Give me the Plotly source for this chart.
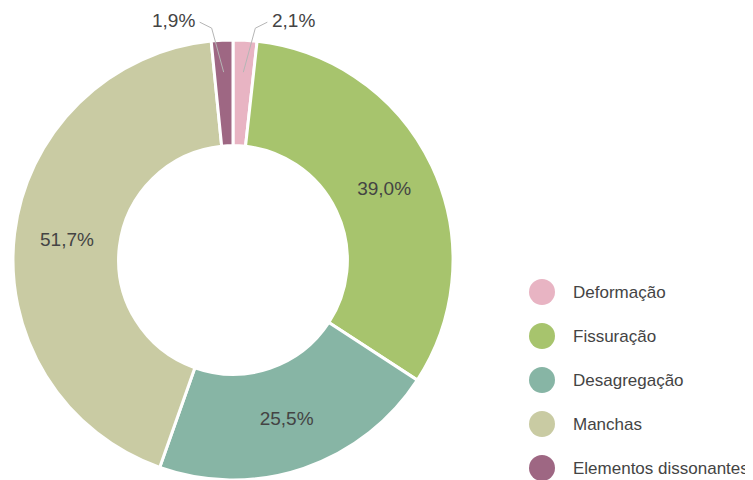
import math
import plotly.graph_objects as go

categories = ["Deformação", "Fissuração", "Desagregação", "Manchas", "Elementos dissonantes"]
values = [2.1, 39.0, 25.5, 51.7, 1.9]
colors = ["#E8B4C3", "#A7C46D", "#87B5A5", "#C9CBA3", "#9E6783"]
outside = [True, False, False, False, True]

W, H = 753, 480
OFF = 8  # page offset of the plot div
FONT = "Arial, Liberation Sans, sans-serif"
TXT = "#444444"

def px(x):
    return (x - OFF) / W

def py(y):
    return 1 - (y - OFF) / H

# pie geometry (screen pixels)
CX, CY, R = 233, 260, 220

fig = go.Figure()
fig.add_trace(go.Pie(
    labels=categories,
    values=values,
    sort=False,
    direction="clockwise",
    rotation=0,
    hole=0.52,
    marker=dict(colors=colors, line=dict(color="white", width=3)),
    texttemplate=["" if o else "%{value:.1f}%" for o in outside],
    textposition=["none" if o else "inside" for o in outside],
    insidetextorientation="horizontal",
    textfont=dict(family=FONT, size=19, color=TXT),
    showlegend=False,
    domain=dict(x=[px(CX - R), px(CX + R)], y=[py(CY + R), py(CY - R)]),
))

# outside labels with elbow leader lines for the thin slices
total = sum(values)
start = 0.0
for cat, v, o in zip(categories, values, outside):
    mid = start + v / total * 180.0
    start += v / total * 360.0
    if not o:
        continue
    a = math.radians(mid)
    side = 1 if math.sin(a) >= 0 else -1
    x1 = CX + 0.855 * R * math.sin(a)
    y1 = CY - 0.855 * R * math.cos(a)
    x2, y2 = x1 + side * 12, y1 - 44
    x3, y3 = x2 + side * 12, y2 - 6
    fig.add_shape(type="path", xref="paper", yref="paper",
                  path=f"M {px(x1)} {py(y1)} L {px(x2)} {py(y2)} L {px(x3)} {py(y3)}",
                  line=dict(color="#B5B5B5", width=1))
    fig.add_annotation(xref="paper", yref="paper", x=px(x3 + side * 3), y=py(y3 - 2),
                       xanchor="left" if side > 0 else "right", yanchor="middle",
                       showarrow=False, text=f"{v:.1f}%".replace(".", ","),
                       font=dict(family=FONT, size=19, color=TXT))

# legend drawn with circle shapes and text
leg_x, leg_y0, leg_dy, r = 542, 292, 44, 13
for i, (cat, col) in enumerate(zip(categories, colors)):
    cy = leg_y0 + i * leg_dy
    fig.add_shape(type="circle", xref="paper", yref="paper",
                  x0=px(leg_x - r), x1=px(leg_x + r),
                  y0=py(cy + r), y1=py(cy - r),
                  fillcolor=col, line=dict(width=0))
    fig.add_annotation(xref="paper", yref="paper", x=px(571), y=py(cy),
                       xanchor="left", yanchor="middle", showarrow=False,
                       text=cat, font=dict(family=FONT, size=17, color=TXT))

fig.update_layout(
    width=W, height=H,
    margin=dict(l=0, r=0, t=0, b=0),
    paper_bgcolor="white",
    plot_bgcolor="white",
    separators=",.",
)

fig.write_html("out.html")
